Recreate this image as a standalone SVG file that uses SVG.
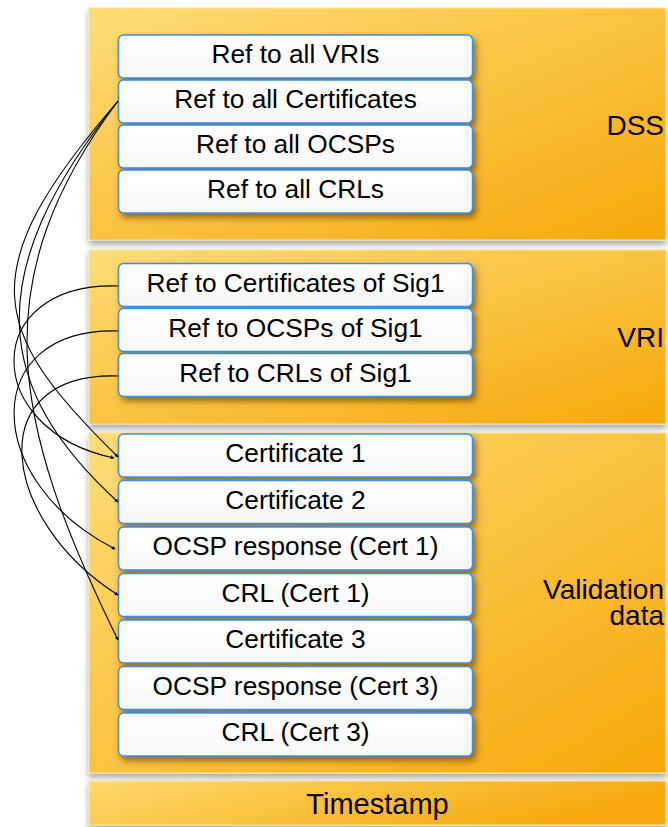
<svg xmlns="http://www.w3.org/2000/svg" width="668" height="827" viewBox="0 0 668 827">
<defs>
<linearGradient id="pg" x1="0" y1="0" x2="1" y2="1">
<stop offset="0" stop-color="#fddd78"/>
<stop offset="1" stop-color="#f6a80a"/>
</linearGradient>
<linearGradient id="tg" x1="0" y1="0" x2="1" y2="0.3">
<stop offset="0" stop-color="#fdd96e"/>
<stop offset="1" stop-color="#f6a90e"/>
</linearGradient>
<linearGradient id="bg" x1="0" y1="0" x2="0" y2="1">
<stop offset="0" stop-color="#ffffff"/>
<stop offset="1" stop-color="#f7f7f7"/>
</linearGradient>
<filter id="ps" x="-5%" y="-10%" width="110%" height="130%">
<feDropShadow dx="0" dy="4" stdDeviation="3" flood-color="#000" flood-opacity="0.35"/>
</filter>
<filter id="bs" x="-5%" y="-20%" width="115%" height="160%">
<feDropShadow dx="3" dy="4" stdDeviation="3" flood-color="#5a3a00" flood-opacity="0.65"/>
</filter>
<marker id="ah" viewBox="0 0 6 6" refX="5" refY="3" markerWidth="4" markerHeight="4" orient="auto" markerUnits="userSpaceOnUse">
<path d="M0,0 L6,3 L0,6 z" fill="#000"/>
</marker>
<style>
.panel{fill:url(#pg);stroke:#fde49a;stroke-width:1;filter:url(#ps)}
.box{fill:url(#bg);stroke:#3a8ee4;stroke-width:1.5;filter:url(#bs)}
.bt{font-family:"Liberation Sans",Arial,sans-serif;font-size:26.3px;fill:#000;text-anchor:middle}
.lbl{font-family:"Liberation Sans",Arial,sans-serif;font-size:28px;fill:#000;text-anchor:end}
.con{fill:none;stroke:#000;stroke-width:1.1;marker-end:url(#ah)}
</style>
</defs>
<rect width="668" height="827" fill="#fff"/>

<g id="dss">
<rect class="panel" x="89" y="8" width="577" height="232"/>
<text class="lbl" x="664" y="135">DSS</text>
</g>
<g id="vri">
<rect class="panel" x="89" y="250" width="577" height="174"/>
<text class="lbl" x="664" y="347">VRI</text>
</g>
<g id="validation">
<rect class="panel" x="89" y="433" width="577" height="340"/>
<text class="lbl" x="664" y="599">Validation</text>
<text class="lbl" x="664" y="625">data</text>
</g>
<g id="timestamp">
<rect class="panel" x="89" y="781" width="577" height="44" style="fill:url(#tg)"/>
<text class="lbl" x="377.5" y="814" style="text-anchor:middle;font-size:29px">Timestamp</text>
</g>

<g id="ref-all-vris"><rect class="box" x="118.5" y="35" width="354" height="43" rx="5"/><text class="bt" x="295.5" y="63">Ref to all VRIs</text></g>
<g id="ref-all-certs"><rect class="box" x="118.5" y="80" width="354" height="43" rx="5"/><text class="bt" x="295.5" y="108">Ref to all Certificates</text></g>
<g id="ref-all-ocsps"><rect class="box" x="118.5" y="125" width="354" height="43" rx="5"/><text class="bt" x="295.5" y="153">Ref to all OCSPs</text></g>
<g id="ref-all-crls"><rect class="box" x="118.5" y="170" width="354" height="43" rx="5"/><text class="bt" x="295.5" y="198">Ref to all CRLs</text></g>

<g id="ref-certs-sig1"><rect class="box" x="118.5" y="263.5" width="354" height="43" rx="5"/><text class="bt" x="295.5" y="291.5">Ref to Certificates of Sig1</text></g>
<g id="ref-ocsps-sig1"><rect class="box" x="118.5" y="308.5" width="354" height="43" rx="5"/><text class="bt" x="295.5" y="336.5">Ref to OCSPs of Sig1</text></g>
<g id="ref-crls-sig1"><rect class="box" x="118.5" y="353.5" width="354" height="43" rx="5"/><text class="bt" x="295.5" y="381.5">Ref to CRLs of Sig1</text></g>

<g id="cert1"><rect class="box" x="118.5" y="434" width="354" height="43" rx="5"/><text class="bt" x="295.5" y="462">Certificate 1</text></g>
<g id="cert2"><rect class="box" x="118.5" y="480.5" width="354" height="43" rx="5"/><text class="bt" x="295.5" y="508.5">Certificate 2</text></g>
<g id="ocsp1"><rect class="box" x="118.5" y="527" width="354" height="43" rx="5"/><text class="bt" x="295.5" y="555">OCSP response (Cert 1)</text></g>
<g id="crl1"><rect class="box" x="118.5" y="573.5" width="354" height="43" rx="5"/><text class="bt" x="295.5" y="601.5">CRL (Cert 1)</text></g>
<g id="cert3"><rect class="box" x="118.5" y="620" width="354" height="43" rx="5"/><text class="bt" x="295.5" y="648">Certificate 3</text></g>
<g id="ocsp3"><rect class="box" x="118.5" y="666.5" width="354" height="43" rx="5"/><text class="bt" x="295.5" y="694.5">OCSP response (Cert 3)</text></g>
<g id="crl3"><rect class="box" x="118.5" y="713" width="354" height="43" rx="5"/><text class="bt" x="295.5" y="741">CRL (Cert 3)</text></g>

<g id="connectors">
<path class="con" d="M118,101 C-28,270 -12,330 118,457"/>
<path class="con" d="M118,101 C-22,275 -5,390 118,502"/>
<path class="con" d="M118,101 C-16,280 10,420 118,640"/>
<path class="con" d="M118,286 C-20,282 -20,430 114,458"/>
<path class="con" d="M118,331 C-20,327 -20,480 115,549"/>
<path class="con" d="M118,376 C-20,372 0,520 118,595"/>
</g>
</svg>
